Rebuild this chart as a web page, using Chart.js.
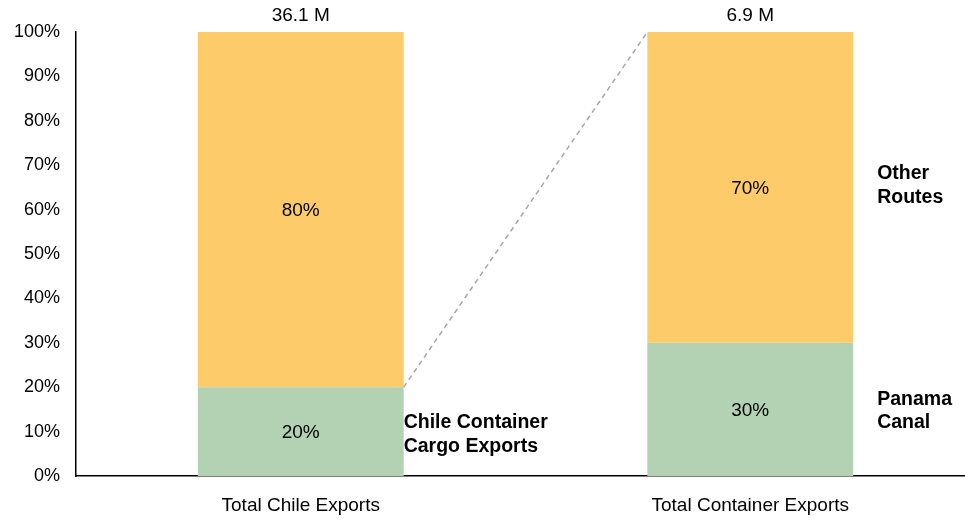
<!DOCTYPE html>
<html>
<head>
<meta charset="utf-8">
<script src="https://cdn.jsdelivr.net/npm/chart.js@4/dist/chart.umd.min.js"></script>
<style>
  html, body { margin: 0; padding: 0; background: #fff; overflow: hidden; }
  #wrap { width: 965px; height: 520px; overflow: hidden; }
  canvas { display: block; }
</style>
</head>
<body>
<div id="wrap"><canvas id="c" width="975" height="520"></canvas></div>
<script>
// Categories and stacked shares (percent)
const categories = ['Total Chile Exports', 'Total Container Exports'];
const lowerShare = [20, 30];   // container cargo / Panama Canal
const upperShare = [80, 70];   // remainder / other routes
const totalLabels = ['36.1 M', '6.9 M'];
const yTicks = [0, 10, 20, 30, 40, 50, 60, 70, 80, 90, 100];

const FONT = 'Liberation Sans, Arial, sans-serif';
const ORANGE = 'rgb(254,203,106)';
const GREEN = 'rgb(179,210,180)';

const overlay = {
  id: 'overlay',
  afterDatasetsDraw(chart) {
    const ctx = chart.ctx;
    const lo = chart.getDatasetMeta(0).data;
    const hi = chart.getDatasetMeta(1).data;
    const y = chart.scales.y;

    ctx.save();
    ctx.fillStyle = '#000';
    ctx.textAlign = 'center';
    ctx.textBaseline = 'middle';
    ctx.font = '19px ' + FONT;

    // segment value labels
    [lo, hi].forEach((bars, di) => {
      const vals = di === 0 ? lowerShare : upperShare;
      bars.forEach((b, i) => {
        const cy = (b.y + b.base) / 2;
        ctx.fillText(vals[i] + '%', b.x, cy + 1);
      });
    });

    // totals above each column
    hi.forEach((b, i) => {
      ctx.fillText(totalLabels[i], b.x, b.y - 16);
    });

    // connector from first column's lower segment to the second column's top
    const a = lo[0], c = hi[1];
    ctx.strokeStyle = '#a6a6a6';
    ctx.lineWidth = 1.5;
    ctx.setLineDash([5, 4]);
    ctx.beginPath();
    ctx.moveTo(a.x + a.width / 2, y.getPixelForValue(lowerShare[0]));
    ctx.lineTo(c.x - c.width / 2, y.getPixelForValue(100));
    ctx.stroke();
    ctx.setLineDash([]);

    // series annotations
    ctx.font = 'bold 19.5px ' + FONT;
    ctx.textAlign = 'left';
    const x0 = a.x + a.width / 2;
    const y0 = y.getPixelForValue(lowerShare[0] / 2);
    ctx.fillText('Chile Container', x0, y0 - 9);
    ctx.fillText('Cargo Exports', x0, y0 + 15);

    const x1 = c.x + c.width / 2 + 24;
    const yTop = (c.y + c.base) / 2;
    ctx.fillText('Other', x1, yTop - 14);
    ctx.fillText('Routes', x1, yTop + 10);
    const b1 = lo[1];
    const yBot = (b1.y + b1.base) / 2;
    ctx.fillText('Panama', x1, yBot - 10);
    ctx.fillText('Canal', x1, yBot + 13);
    ctx.restore();
  }
};

new Chart(document.getElementById('c'), {
  type: 'bar',
  data: {
    labels: categories,
    datasets: [
      { label: 'Panama Canal', data: lowerShare, backgroundColor: GREEN },
      { label: 'Other Routes', data: upperShare, backgroundColor: ORANGE }
    ]
  },
  options: {
    responsive: false,
    animation: false,
    devicePixelRatio: 1,
    layout: { padding: { top: 32, right: 0, left: 0, bottom: 0 } },
    plugins: { legend: { display: false }, tooltip: { enabled: false } },
    datasets: { bar: { categoryPercentage: 1, barPercentage: 0.458 } },
    scales: {
      x: {
        stacked: true,
        grid: { display: false, drawTicks: false },
        border: { color: '#000', width: 1.5 },
        ticks: { color: '#000', font: { family: FONT, size: 19 }, padding: 18 },
        afterFit(s) { s.height = 44; }
      },
      y: {
        stacked: true,
        min: 0, max: 100,
        afterBuildTicks(s) { s.ticks = yTicks.map(v => ({ value: v })); },
        grid: { display: false, drawTicks: false },
        border: { color: '#000', width: 1.5 },
        ticks: { color: '#000', font: { family: FONT, size: 18 }, padding: 16,
                 callback: v => v + '%' },
        afterFit(s) { s.width = 76; }
      }
    }
  },
  plugins: [overlay]
});
</script>
</body>
</html>
